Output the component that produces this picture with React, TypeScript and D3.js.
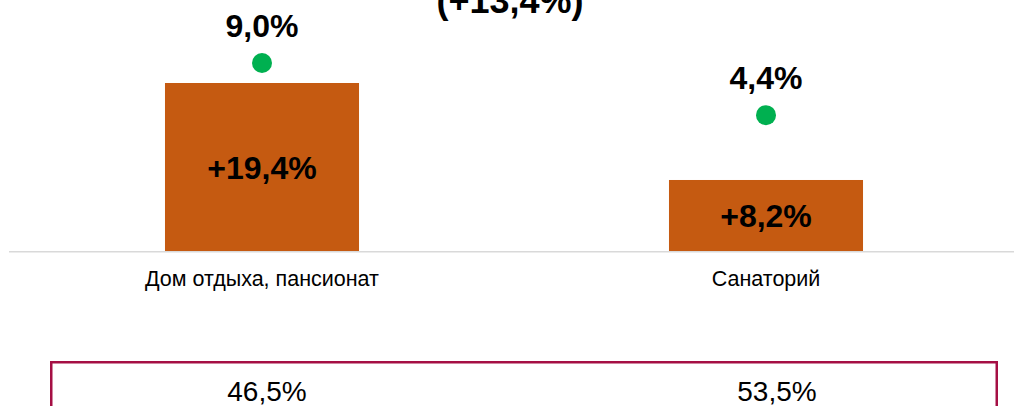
import React, { useEffect, useRef } from 'react';
import * as d3 from 'd3';

const categories = ['Дом отдыха, пансионат', 'Санаторий'];
const growthValues = [19.4, 8.2];
const dotValues = [9.0, 4.4];
const shareValues = [46.5, 53.5];
const totalLabel = '(+13,4%)';

const fmt = (v: number, plus = false) =>
    (plus && v > 0 ? '+' : '') + v.toFixed(1).replace('.', ',') + '%';

const W = 1014;
const H = 406;
const FONT = '"Liberation Sans", Arial, sans-serif';

function App() {
    const ref = useRef<SVGSVGElement | null>(null);

    useEffect(() => {
        const svg = d3.select(ref.current);
        svg.selectAll('*').remove();

        const baseY = 251;

        const x = d3.scaleBand<string>()
            .domain(categories)
            .range([10, 1018])
            .paddingInner(0.615)
            .paddingOuter(0.3075);

        const y = d3.scaleLinear()
            .domain([0, 19.4])
            .range([baseY, 83]);

        // secondary axis for the green markers
        const y2 = d3.scaleLinear()
            .domain([0, 9])
            .range([165, 63]);

        const cx = (c: string) => (x(c) ?? 0) + x.bandwidth() / 2;

        // title (cut at top)
        svg.append('text')
            .attr('x', 510)
            .attr('y', 13)
            .attr('text-anchor', 'middle')
            .attr('font-family', FONT)
            .attr('font-weight', 'bold')
            .attr('font-size', 36)
            .attr('fill', '#000')
            .text(totalLabel);

        // bars
        svg.selectAll('rect.bar')
            .data(categories)
            .enter()
            .append('rect')
            .attr('class', 'bar')
            .attr('x', d => x(d) ?? 0)
            .attr('y', (d, i) => y(growthValues[i]))
            .attr('width', x.bandwidth())
            .attr('height', (d, i) => baseY - y(growthValues[i]))
            .attr('fill', '#C55A11');

        // baseline
        svg.append('line')
            .attr('x1', 9)
            .attr('x2', W)
            .attr('y1', baseY + 0.75)
            .attr('y2', baseY + 0.75)
            .attr('stroke', '#D9D9D9')
            .attr('stroke-width', 1.5);

        // bar labels
        svg.selectAll('text.barlabel')
            .data(categories)
            .enter()
            .append('text')
            .attr('class', 'barlabel')
            .attr('x', d => cx(d))
            .attr('y', (d, i) => (y(growthValues[i]) + baseY) / 2 + 12)
            .attr('text-anchor', 'middle')
            .attr('font-family', FONT)
            .attr('font-weight', 'bold')
            .attr('font-size', 32)
            .attr('fill', '#000')
            .text((d, i) => fmt(growthValues[i], true));

        // dots
        svg.selectAll('circle.dot')
            .data(categories)
            .enter()
            .append('circle')
            .attr('class', 'dot')
            .attr('cx', d => cx(d))
            .attr('cy', (d, i) => y2(dotValues[i]))
            .attr('r', 10)
            .attr('fill', '#00B050');

        svg.selectAll('text.dotlabel')
            .data(categories)
            .enter()
            .append('text')
            .attr('class', 'dotlabel')
            .attr('x', d => cx(d))
            .attr('y', (d, i) => y2(dotValues[i]) - 26)
            .attr('text-anchor', 'middle')
            .attr('font-family', FONT)
            .attr('font-weight', 'bold')
            .attr('font-size', 32)
            .attr('fill', '#000')
            .text((d, i) => fmt(dotValues[i]));

        // category labels
        svg.selectAll('text.cat')
            .data(categories)
            .enter()
            .append('text')
            .attr('class', 'cat')
            .attr('x', d => cx(d))
            .attr('y', 286)
            .attr('text-anchor', 'middle')
            .attr('font-family', FONT)
            .attr('font-size', 21.5)
            .attr('fill', '#000')
            .text(d => d);

        // share box
        svg.append('rect')
            .attr('x', 51.25)
            .attr('y', 362.25)
            .attr('width', 945.5)
            .attr('height', 60)
            .attr('fill', 'none')
            .attr('stroke', '#A50F44')
            .attr('stroke-width', 2.5);

        svg.selectAll('text.share')
            .data(categories)
            .enter()
            .append('text')
            .attr('class', 'share')
            .attr('x', (d, i) => cx(d) + [5, 11][i])
            .attr('y', 401)
            .attr('text-anchor', 'middle')
            .attr('font-family', FONT)
            .attr('font-size', 28)
            .attr('fill', '#000')
            .text((d, i) => fmt(shareValues[i]));
    }, []);

    return (
        <svg
            ref={ref}
            width={W}
            height={H}
            style={{ position: 'absolute', left: 0, top: 0, background: '#fff' }}
        />
    );
}

export default App;
